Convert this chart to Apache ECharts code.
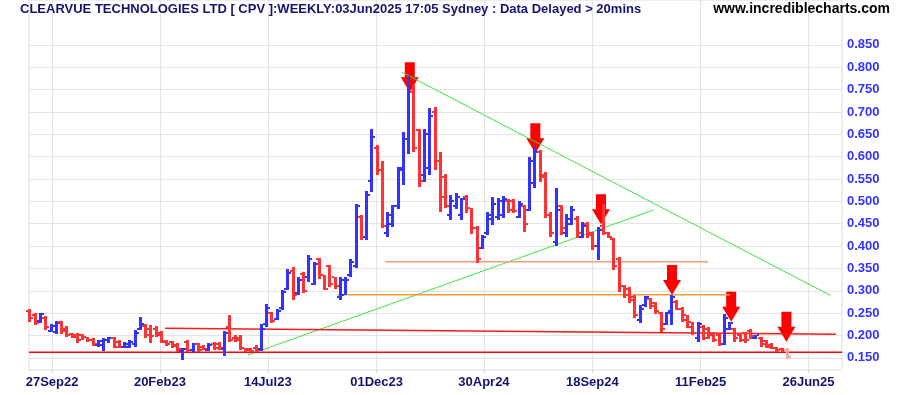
<!DOCTYPE html>
<html><head><meta charset="utf-8">
<script src="https://cdn.jsdelivr.net/npm/echarts@6/dist/echarts.min.js"></script>
<style>html,body{margin:0;padding:0;background:#fff}#c{width:900px;height:395px}</style>
</head><body><div id="c"></div>
<script>
// Weekly OHLC, week index 0 = 29Aug22 ... 144 = 02Jun25
const opens  = [.255,.245,.232,.24,.21,.208,.23,.215,.203,.2,.2,.196,.19,.178,.178,.19,.195,.185,.174,.175,.18,.215,.222,.215,.215,.205,.186,.185,.178,.165,.185,.168,.18,.175,.168,.18,.18,.17,.22,.195,.195,.172,.17,.172,.17,.225,.25,.237,.262,.305,.345,.295,.338,.33,.315,.37,.335,.355,.33,.285,.29,.335,.355,.465,.42,.545,.62,.57,.43,.45,.49,.57,.64,.745,.66,.56,.575,.70,.59,.555,.47,.49,.47,.51,.485,.44,.395,.43,.46,.465,.47,.50,.50,.465,.49,.48,.54,.61,.56,.47,.41,.49,.43,.45,.46,.42,.45,.43,.40,.445,.43,.415,.37,.31,.305,.285,.235,.268,.282,.272,.25,.225,.255,.275,.26,.245,.23,.195,.22,.215,.205,.20,.18,.215,.215,.20,.205,.21,.195,.195,.188,.178,.172,.17,.168];
const highs  = [.259,.25,.25,.243,.225,.232,.232,.221,.205,.205,.204,.197,.194,.19,.194,.197,.197,.19,.185,.19,.212,.242,.225,.224,.221,.21,.19,.188,.182,.171,.19,.182,.182,.178,.182,.185,.185,.21,.246,.2,.2,.173,.171,.178,.225,.27,.253,.26,.302,.349,.353,.33,.341,.379,.364,.374,.335,.358,.331,.331,.331,.37,.495,.469,.523,.661,.626,.59,.476,.491,.577,.655,.78,.76,.661,.661,.708,.711,.61,.562,.515,.519,.508,.515,.486,.444,.424,.476,.51,.508,.512,.505,.505,.501,.492,.60,.622,.615,.565,.477,.529,.492,.471,.49,.468,.454,.454,.432,.443,.495,.432,.417,.376,.313,.309,.29,.268,.289,.284,.275,.253,.253,.29,.279,.264,.246,.231,.229,.223,.22,.208,.205,.249,.231,.216,.205,.208,.214,.202,.197,.19,.182,.175,.172,.171];
const lows   = [.231,.223,.227,.212,.207,.203,.204,.197,.194,.182,.19,.185,.177,.175,.166,.182,.171,.171,.171,.171,.175,.212,.194,.183,.196,.182,.177,.173,.164,.145,.164,.163,.163,.167,.165,.167,.168,.155,.185,.185,.167,.164,.163,.164,.166,.22,.228,.235,.258,.301,.279,.29,.296,.32,.312,.327,.301,.308,.305,.279,.29,.331,.35,.413,.413,.521,.558,.441,.42,.443,.484,.536,.605,.611,.532,.543,.558,.57,.476,.485,.458,.484,.458,.473,.428,.361,.393,.424,.447,.458,.462,.473,.475,.462,.432,.478,.531,.544,.462,.421,.401,.425,.421,.447,.417,.417,.417,.391,.369,.425,.417,.346,.298,.284,.272,.238,.227,.264,.26,.249,.208,.223,.223,.257,.231,.216,.201,.186,.19,.193,.186,.177,.178,.212,.186,.186,.182,.193,.192,.175,.171,.17,.164,.164,.148];
const closes = [.24,.228,.247,.218,.222,.228,.21,.2,.197,.19,.197,.19,.18,.188,.19,.195,.175,.175,.18,.186,.205,.225,.2,.198,.2,.187,.18,.177,.17,.17,.168,.18,.168,.17,.178,.172,.172,.205,.19,.19,.172,.168,.166,.168,.215,.262,.232,.255,.298,.34,.29,.325,.30,.37,.36,.335,.305,.315,.31,.325,.325,.365,.49,.42,.515,.645,.57,.445,.47,.49,.575,.64,.745,.62,.545,.65,.69,.59,.51,.49,.50,.51,.505,.485,.44,.37,.42,.47,.495,.50,.505,.48,.478,.495,.45,.59,.61,.555,.47,.43,.48,.44,.46,.48,.43,.445,.425,.40,.435,.43,.42,.355,.31,.29,.28,.245,.26,.285,.265,.255,.215,.25,.285,.26,.235,.22,.205,.225,.195,.20,.19,.18,.24,.228,.195,.19,.19,.198,.20,.18,.175,.172,.168,.167,.152];

const tickLabels = ['27Sep22','20Feb23','14Jul23','01Dec23','30Apr24','18Sep24','11Feb25','26Jun25'];
const tickPos    = [4.2, 24.7, 45.2, 65.9, 86.3, 106.9, 127.5, 148.0];
const yTicks     = [0.15,0.2,0.25,0.3,0.35,0.4,0.45,0.5,0.55,0.6,0.65,0.7,0.75,0.8,0.85];

const arrowPts   = [[72.2,0.744],[96.07,0.6075],[108.55,0.449],[122.05,0.2905],[133.3,0.2308],[143.8,0.186]];
const greenLow   = [[41.4,0.156],[118.6,0.481]];
const greenHigh  = [[70.7,0.789],[152.1,0.290]];
const orangeHigh = [[67.5,0.365],[128.9,0.365]];
const orangeLow  = [[58.5,0.291],[133.1,0.291]];
const redUpper   = [[25.7,0.216],[153.2,0.2026]];
const redLower   = [[-0.19,0.1623],[154.37,0.1623]];

const chart = echarts.init(document.getElementById('c'), null, {renderer:'canvas'});
const ohlc = opens.map((o,i)=>[i,o,highs[i],lows[i],closes[i]]);
const lastIdx = opens.length-1;

function lineSeries(data,color,width){
  return {type:'line',data:data,symbol:'none',silent:true,z:2,animation:false,
    lineStyle:{color:color,width:width}};
}

chart.setOption({
  animation:false,
  backgroundColor:'#ffffff',
  grid:{left:29,right:58,top:0,bottom:25,show:true,borderColor:'#dcdcdc',borderWidth:1},
  graphic:[
    {type:'text',x:20,y:9.5,style:{text:'CLEARVUE TECHNOLOGIES LTD [ CPV ]:WEEKLY:03Jun2025 17:05 Sydney : Data Delayed > 20mins',
      font:'bold 13px "Liberation Sans", Arial',fill:'#14146e',verticalAlign:'middle',textVerticalAlign:'middle'},z:10},
    {type:'text',x:890,y:9.5,style:{text:'www.incrediblecharts.com',font:'bold 14px "Liberation Sans", Arial',fill:'#000000',
      align:'right',textAlign:'right',verticalAlign:'middle',textVerticalAlign:'middle'},z:10}
  ],
  xAxis:{type:'value',min:-0.19,max:154.37,
    axisLine:{show:false},
    axisTick:{show:true,length:3,customValues:tickPos,lineStyle:{color:'#dcdcdc'}},
    splitLine:{show:true,lineStyle:{color:'#e4e4e4',width:1}},
    axisLabel:{customValues:tickPos,margin:6,color:'#14146e',fontWeight:'bold',fontSize:13,fontFamily:'"Liberation Sans", Arial',
      formatter:function(v){const k=tickPos.findIndex(p=>Math.abs(p-v)<0.01);return k>=0?tickLabels[k]:'';}}
  },
  yAxis:{type:'value',position:'right',min:0.12271,max:0.95048,
    axisLine:{show:false},
    axisTick:{show:false,customValues:yTicks},
    splitLine:{show:true,lineStyle:{color:'#e4e4e4',width:1}},
    axisLabel:{customValues:yTicks,margin:5,color:'#3333ff',fontWeight:'bold',fontSize:13,fontFamily:'"Liberation Sans", Arial',
      formatter:function(v){return v.toFixed(3);}}
  },
  series:[
    {type:'scatter',data:arrowPts,symbol:'path://M4,0 L14,0 L14,15 L18,15 L9,30 L0,15 L4,15 Z',
      symbolSize:[18,30],symbolOffset:[0,'-50%'],itemStyle:{color:'#ff0000',opacity:1},silent:true,z:1},
    lineSeries(greenLow,'#3ce63c',1),
    lineSeries(greenHigh,'#3ce63c',1),
    lineSeries(orangeHigh,'#f9a07a',1.5),
    lineSeries(orangeLow,'#ff9933',1.5),
    lineSeries(redUpper,'#ff1a1a',1.5),
    lineSeries(redLower,'#ff0000',1.5),
    {type:'custom',data:ohlc,encode:{x:0,y:[1,2,3,4]},z:3,silent:true,
      renderItem:function(params,api){
        const i=api.value(0),o=api.value(1),h=api.value(2),l=api.value(3),c=api.value(4);
        const ph=api.coord([i,h]),pl=api.coord([i,l]),po=api.coord([i,o]),pc=api.coord([i,c]);
        const left=Math.round(ph[0]-1.5);
        const col = params.dataIndex===lastIdx ? '#ffaaaa' : (c>=o ? '#3333ff' : '#ff3333');
        const top=Math.round(ph[1]), bot=Math.round(pl[1]);
        return {type:'group',children:[
          {type:'rect',shape:{x:left,y:top,width:3,height:Math.max(2,bot-top)},style:{fill:col}},
          {type:'rect',shape:{x:left-2,y:Math.round(po[1]-1),width:2,height:2},style:{fill:col}},
          {type:'rect',shape:{x:left+3,y:Math.round(pc[1]-1),width:2,height:2},style:{fill:col}}
        ]};
      }
    }
  ]
});
</script></body></html>
